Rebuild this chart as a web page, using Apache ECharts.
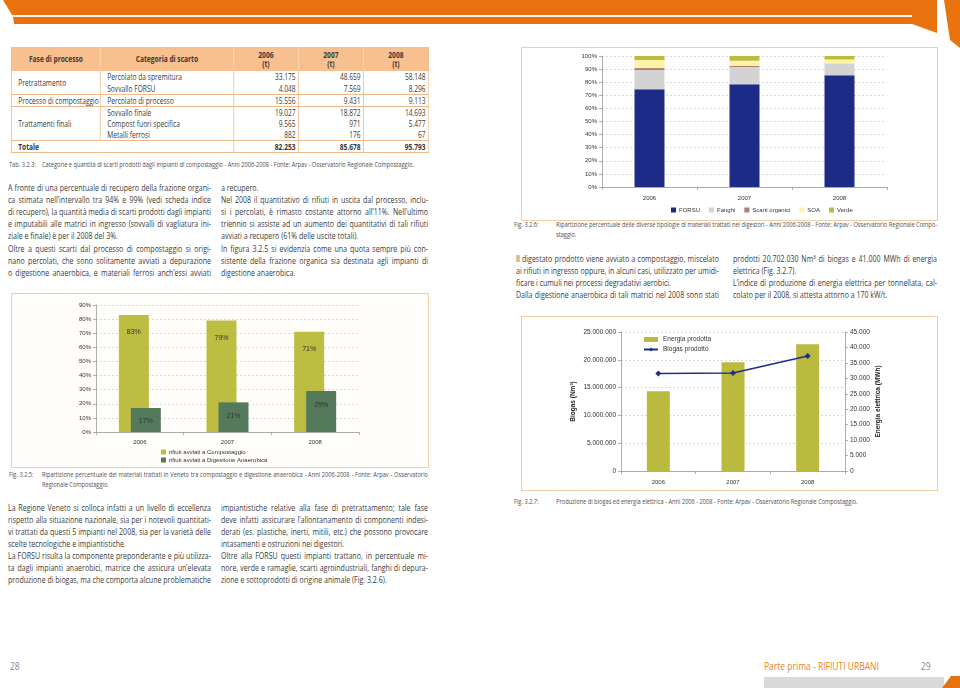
<!DOCTYPE html>
<html>
<head>
<meta charset="utf-8">
<script src="https://cdn.jsdelivr.net/npm/echarts@6/dist/echarts.min.js"></script>
<style>
html,body{margin:0;padding:0;background:#fff;}
#page{position:relative;width:960px;height:688px;overflow:hidden;background:#fff;font-family:"Open Sans","Noto Sans",sans-serif;color:#3a3a3a;}
.ln{position:absolute;white-space:nowrap;font-size:8.7px;}
.cap{position:absolute;white-space:nowrap;font-size:7.2px;color:#505050;}
.ln span,.cap span{display:inline-block;transform-origin:0 50%;}
.box{position:absolute;border:1px solid #f2cda8;box-sizing:border-box;}
#tblwrap{position:absolute;left:11px;top:47px;transform-origin:0 0;}
#tbl{border-collapse:collapse;font-size:8.3px;color:#3a3a3a;table-layout:fixed;}
#tbl td,#tbl th{padding:0;height:11.5px;line-height:11px;white-space:nowrap;overflow:visible;box-sizing:border-box;}
#tbl th{background:#f8c08e;height:24px;line-height:9.5px;font-weight:bold;text-align:center;border-left:1px solid #fbd6b4;}
#tbl th:first-child{border-left:1px solid #f1b07a;}
#tbl th:last-child{border-right:1px solid #f1b07a;}
#tbl td{border-left:1px solid #f1b98a;border-right:1px solid #f1b98a;}
#tbl td.num{text-align:right;padding-right:3px;}
#tbl td.txt{text-align:left;padding-left:8px;}
#tbl tr.gb td{border-bottom:1px solid #f1b98a;}
#tbl tr.tot td{font-weight:bold;border-bottom:1px solid #f1b98a;}
#chart{position:absolute;left:0;top:0;width:960px;height:688px;z-index:5;pointer-events:none;}
.foot{position:absolute;white-space:nowrap;font-size:10px;}
.foot span{display:inline-block;transform-origin:0 50%;transform:scaleX(0.85);}
</style>
</head>
<body>
<div id="page">
<svg width="960" height="688" style="position:absolute;left:0;top:0;">
  <polygon points="3,0 937,0 937,33 912,24 14,24 13,17 12,15" fill="#e8730e"/>
  <rect x="12" y="15" width="900" height="2" fill="#fff4ea"/>
  <polygon points="944,0 960,0 960,48 950,40" fill="#e8730e"/>
  <rect x="764" y="677" width="180" height="11" fill="#d9d9d9"/>
  <polygon points="942,688 951,676 960,676 960,688" fill="#e8730e"/>
</svg>
<div class="box" style="left:521px;top:47px;width:417px;height:174px;"></div>
<div class="box" style="left:11px;top:293px;width:418px;height:175px;background:#fffefa;"></div>
<div class="box" style="left:521px;top:316px;width:417px;height:175px;"></div>
<div id="chart"></div>
</div>
<script>
// ---------- DATA ----------
// Table 3.2.3
const tabYears = ['2006', '2007', '2008'];
const tabPhases = ['Pretrattamento', 'Processo di compostaggio', 'Trattamenti finali'];
const tabPhaseSpans = [2, 1, 3];
const tabCategories = ['Percolato da spremitura', 'Sovvallo FORSU', 'Percolato di processo', 'Sovvallo finale', 'Compost fuori specifica', 'Metalli ferrosi'];
const tab2006 = ['33.175', '4.048', '15.556', '19.027', '9.565', '882'];
const tab2007 = ['48.659', '7.569', '9.431', '18.872', '971', '176'];
const tab2008 = ['58.148', '8.296', '9.113', '14.693', '5.477', '67'];
const tabTotals = ['82.253', '85.678', '95.793'];

// Fig 3.2.6 (stacked %)
const digYears = ['2006', '2007', '2008'];
const digForsu = [74.6, 78.4, 85.3];
const digFanghi = [14.7, 13.2, 9.1];
const digScarti = [1.5, 0.8, 0];
const digSoa = [6.1, 4.0, 3.0];
const digVerde = [3.1, 3.6, 2.6];
const digTicks = [0, 10, 20, 30, 40, 50, 60, 70, 80, 90, 100];

// Fig 3.2.5
const repYears = ['2006', '2007', '2008'];
const repCompost = [83, 79, 71];
const repDigest = [17, 21, 29];

// Fig 3.2.7
const bioYears = ['2006', '2007', '2008'];
const bioEnergia = [25800, 35200, 41000];
const bioBiogas = [17520000, 17630000, 20702030];

// ---------- TEXT ----------
const txtTopLeftA = [
 ['A fronte di una percentuale di recupero della frazione organi-', 1],
 ['ca stimata nell’intervallo tra 94% e 99% (vedi scheda indice', 1],
 ['di recupero), la quantità media di scarti prodotti dagli impianti', 1],
 ['e imputabili alle matrici in ingresso (sovvalli di vagliatura ini-', 1],
 ['ziale e finale) è per il 2008 del 3%.', 0],
 ['Oltre a questi scarti dal processo di compostaggio si origi-', 1],
 ['nano percolati, che sono solitamente avviati a depurazione', 1],
 ['o digestione anaerobica, e materiali ferrosi anch’essi avviati', 1]
];
const txtTopLeftB = [
 ['a recupero.', 0],
 ['Nel 2008 il quantitativo di rifiuti in uscita dal processo, inclu-', 1],
 ['si i percolati, è rimasto costante attorno all’11%. Nell’ultimo', 1],
 ['triennio si assiste ad un aumento dei quantitativi di tali rifiuti', 1],
 ['avviati a recupero (61% delle uscite totali).', 0],
 ['In figura 3.2.5 si evidenzia come una quota sempre più con-', 1],
 ['sistente della frazione organica sia destinata agli impianti di', 1],
 ['digestione anaerobica.', 0]
];
const txtBotLeftA = [
 ['La Regione Veneto si colloca infatti a un livello di eccellenza', 1],
 ['rispetto alla situazione nazionale, sia per i notevoli quantitati-', 1],
 ['vi trattati da questi 5 impianti nel 2008, sia per la varietà delle', 1],
 ['scelte tecnologiche e impiantistiche.', 0],
 ['La FORSU risulta la componente preponderante e più utilizza-', 1],
 ['ta dagli impianti anaerobici, matrice che assicura un’elevata', 1],
 ['produzione di biogas, ma che comporta alcune problematiche', 1]
];
const txtBotLeftB = [
 ['impiantistiche relative alla fase di pretrattamento; tale fase', 1],
 ['deve infatti assicurare l’allontanamento di componenti indesi-', 1],
 ['derati (es. plastiche, inerti, mitili, etc.) che possono provocare', 1],
 ['intasamenti e ostruzioni nei digestori.', 0],
 ['Oltre alla FORSU questi impianti trattano, in percentuale mi-', 1],
 ['nore, verde e ramaglie, scarti agroindustriali, fanghi di depura-', 1],
 ['zione e sottoprodotti di origine animale (Fig. 3.2.6).', 0]
];
const txtRightA = [
 ['Il digestato prodotto viene avviato a compostaggio, miscelato', 1],
 ['ai rifiuti in ingresso oppure, in alcuni casi, utilizzato per umidi-', 1],
 ['ficare i cumuli nei processi degradativi aerobici.', 0],
 ['Dalla digestione anaerobica di tali matrici nel 2008 sono stati', 1]
];
const txtRightB = [
 ['prodotti 20.702.030 Nm³ di biogas e 41.000 MWh di energia', 1],
 ['elettrica (Fig. 3.2.7).', 0],
 ['L’indice di produzione di energia elettrica per tonnellata, cal-', 1],
 ['colato per il 2008, si attesta attorno a 170 kW/t.', 0]
];

const page = document.getElementById('page');

// line layout with a uniform horizontal condensation per class
const pending = { ln: [], cap: [] };
function addLines(x, yc, width, lh, lines, cls) {
  lines.forEach(function (ln, i) {
    const d = document.createElement('div');
    d.className = cls;
    d.style.left = x + 'px';
    d.style.top = (yc + i * lh - lh / 2) + 'px';
    d.style.height = lh + 'px';
    d.style.lineHeight = lh + 'px';
    const s = document.createElement('span');
    s.textContent = ln[0];
    d.appendChild(s);
    page.appendChild(d);
    pending[cls].push({ s: s, txt: ln[0], just: ln[1], width: width, w: s.getBoundingClientRect().width });
  });
}
function layoutLines(cls) {
  const items = pending[cls];
  let k = 1;
  items.forEach(function (it) { if (it.just && it.width) k = Math.min(k, it.width / it.w); });
  items.forEach(function (it) {
    let kk = k;
    if (it.width && it.w * kk > it.width) kk = it.width / it.w;
    it.s.style.transform = 'scaleX(' + kk + ')';
    const n = (it.txt.match(/ /g) || []).length;
    if (it.just && n) it.s.style.wordSpacing = ((it.width / kk - it.w) / n) + 'px';
  });
}

// table
(function () {
  const K = 0.8;
  const wrap = document.createElement('div');
  wrap.id = 'tblwrap';
  wrap.style.transform = 'scaleX(' + K + ')';
  const t = document.createElement('table');
  t.id = 'tbl';
  const widths = [89, 133, 65, 65, 65].map(w => w / K);
  t.style.width = (417 / K) + 'px';
  let html = '<colgroup>' + widths.map(w => '<col style="width:' + w + 'px">').join('') + '</colgroup>';
  html += '<tr><th>Fase di processo</th><th>Categoria di scarto</th>' +
    tabYears.map(y => '<th>' + y + '<br>(t)</th>').join('') + '</tr>';
  let r = 0;
  tabPhases.forEach(function (ph, p) {
    for (let k = 0; k < tabPhaseSpans[p]; k++) {
      const last = k === tabPhaseSpans[p] - 1;
      html += '<tr' + (last ? ' class="gb"' : '') + '>';
      if (k === 0) html += '<td class="txt" rowspan="' + tabPhaseSpans[p] + '" style="border-bottom:1px solid #f1b98a">' + ph + '</td>';
      html += '<td class="txt">' + tabCategories[r] + '</td><td class="num">' + tab2006[r] + '</td><td class="num">' + tab2007[r] + '</td><td class="num">' + tab2008[r] + '</td></tr>';
      r++;
    }
  });
  html += '<tr class="tot"><td class="txt" colspan="2">Totale</td>' + tabTotals.map(v => '<td class="num">' + v + '</td>').join('') + '</tr>';
  t.innerHTML = html;
  wrap.appendChild(t);
  page.appendChild(wrap);
})();

// captions
function caption(labelX, textX, yc, label, lines, width) {
  addLines(labelX, yc, 0, 9.5, [[label, 0]], 'cap');
  addLines(textX, yc, width, 9.5, lines, 'cap');
}
caption(9, 42, 165, 'Tab. 3.2.3:', [['Categorie e quantità di scarti prodotti dagli impianti di compostaggio - Anni 2006-2008 - Fonte: Arpav - Osservatorio Regionale Compostaggio.', 0]], 386);
caption(9, 42, 475, 'Fig. 3.2.5:', [['Ripartizione percentuale dei materiali trattati in Veneto tra compostaggio e digestione anaerobica - Anni 2006-2008 - Fonte: Arpav - Osservatorio', 1], ['Regionale Compostaggio.', 0]], 386);
caption(514, 556, 225, 'Fig. 3.2.6:', [['Ripartizione percentuale delle diverse tipologie di materiali trattati nei digestori - Anni 2006-2008 - Fonte: Arpav - Osservatorio Regionale Compo-', 1], ['staggio.', 0]], 381);
caption(514, 556, 502, 'Fig. 3.2.7:', [['Produzione di biogas ed energia elettrica - Anni 2006 - 2008 - Fonte: Arpav - Osservatorio Regionale Compostaggio.', 0]], 381);

addLines(8, 188.3, 203, 12.05, txtTopLeftA, 'ln');
addLines(221, 188.3, 207, 12.05, txtTopLeftB, 'ln');
addLines(8, 508.3, 203, 12, txtBotLeftA, 'ln');
addLines(221, 508.3, 207, 12, txtBotLeftB, 'ln');
addLines(516, 259, 203, 12, txtRightA, 'ln');
addLines(733, 259, 204, 12, txtRightB, 'ln');
layoutLines('ln');
layoutLines('cap');

// footer
(function () {
  const f = [['28', 10, '#8a8a8a'], ['Parte prima - RIFIUTI URBANI', 764, '#e8801f'], ['29', 921, '#8a8a8a']];
  f.forEach(function (it) {
    const d = document.createElement('div');
    d.className = 'foot';
    d.style.left = it[1] + 'px';
    d.style.top = '659px';
    d.style.color = it[2];
    d.innerHTML = '<span></span>';
    d.firstChild.textContent = it[0];
    page.appendChild(d);
  });
})();

// ---------- CHARTS ----------
function dots(v) { return String(v).replace(/\B(?=(\d{3})+(?!\d))/g, '.'); }
const FONT = '"Liberation Sans", Arial, sans-serif';
const axisLab = { fontSize: 6, color: '#333', fontFamily: FONT };
const gridLine = { show: true, lineStyle: { color: '#c8c8c8', type: [2, 2], width: 0.7 } };
const axLine = { show: true, lineStyle: { color: '#9a9a9a', width: 0.8 } };
const axTick = { show: true, length: 3, lineStyle: { color: '#9a9a9a', width: 0.8 } };

const chart = echarts.init(document.getElementById('chart'), null, { renderer: 'canvas' });
chart.setOption({
  backgroundColor: 'transparent',
  animation: false,
  textStyle: { fontFamily: FONT },
  grid: [
    { left: 602, top: 56, width: 285, height: 131 },
    { left: 96, top: 305, width: 263, height: 127 },
    { left: 621, top: 332, width: 224, height: 139 }
  ],
  xAxis: [
    { type: 'category', gridIndex: 0, data: digYears, axisLine: axLine, axisTick: axTick, axisLabel: Object.assign({ margin: 8 }, axisLab) },
    { type: 'category', gridIndex: 1, data: repYears, axisLine: axLine, axisTick: axTick, axisLabel: Object.assign({ margin: 7 }, axisLab) },
    { type: 'category', gridIndex: 2, data: bioYears, axisLine: axLine, axisTick: axTick, axisLabel: Object.assign({ margin: 8 }, axisLab) }
  ],
  yAxis: [
    { type: 'value', gridIndex: 0, min: digTicks[0], max: digTicks[digTicks.length - 1], interval: 10, axisLine: axLine, axisTick: axTick, splitLine: gridLine,
      axisLabel: Object.assign({ formatter: '{value}%', margin: 5 }, axisLab) },
    { type: 'value', gridIndex: 1, min: 0, max: 90, interval: 10, axisLine: axLine, axisTick: axTick, splitLine: gridLine,
      axisLabel: Object.assign({ formatter: '{value}%', margin: 5 }, axisLab) },
    { type: 'value', gridIndex: 2, position: 'left', min: 0, max: 25000000, interval: 5000000, axisLine: axLine, axisTick: axTick, splitLine: gridLine,
      name: 'Biogas (Nm³)', nameLocation: 'middle', nameGap: 44, nameRotate: 90,
      nameTextStyle: { fontSize: 6.5, fontWeight: 'bold', color: '#222', fontFamily: FONT },
      axisLabel: Object.assign({ formatter: dots, margin: 5 }, axisLab, { fontSize: 6.5 }) },
    { type: 'value', gridIndex: 2, position: 'right', min: 0, max: 45000, interval: 5000, axisLine: axLine, axisTick: axTick, splitLine: { show: false },
      name: 'Energia elettrica (MWh)', nameLocation: 'middle', nameGap: 30, nameRotate: 90,
      nameTextStyle: { fontSize: 6.5, fontWeight: 'bold', color: '#222', fontFamily: FONT },
      axisLabel: Object.assign({ formatter: dots, margin: 5 }, axisLab, { fontSize: 6.5 }) }
  ],
  legend: [
    { data: ['FORSU', 'Fanghi', 'Scarti organici', 'SOA', 'Verde'], left: 671, top: 207, padding: 0, icon: 'rect', itemWidth: 5, itemHeight: 5, itemGap: 9,
      textStyle: { fontSize: 6, color: '#333', fontFamily: FONT, padding: [0, 0, 0, -2] } },
    { data: ['rifiuti avviati a Compostaggio', 'rifiuti avviati a Digestione Anaerobica'], orient: 'vertical', left: 161, top: 449, icon: 'rect',
      itemWidth: 5, itemHeight: 5, itemGap: 2, padding: 0, textStyle: { fontSize: 6, color: '#333', fontFamily: FONT, padding: [0, 0, 0, -2] } },
    { data: [{ name: 'Energia prodotta', icon: 'rect' }, { name: 'Biogas prodotto' }], orient: 'vertical', left: 643, top: 336,
      itemWidth: 14, itemHeight: 5, itemGap: 3, padding: 0, textStyle: { fontSize: 6.5, color: '#333', fontFamily: FONT } }
  ],
  series: [
    { name: 'FORSU', type: 'bar', stack: 'd', xAxisIndex: 0, yAxisIndex: 0, barWidth: 30, data: digForsu, itemStyle: { color: '#1c2b85' } },
    { name: 'Fanghi', type: 'bar', stack: 'd', xAxisIndex: 0, yAxisIndex: 0, barWidth: 30, data: digFanghi, itemStyle: { color: '#d3d3d3' } },
    { name: 'Scarti organici', type: 'bar', stack: 'd', xAxisIndex: 0, yAxisIndex: 0, barWidth: 30, data: digScarti, itemStyle: { color: '#b27c70' } },
    { name: 'SOA', type: 'bar', stack: 'd', xAxisIndex: 0, yAxisIndex: 0, barWidth: 30, data: digSoa, itemStyle: { color: '#fbf3a6' } },
    { name: 'Verde', type: 'bar', stack: 'd', xAxisIndex: 0, yAxisIndex: 0, barWidth: 30, data: digVerde, itemStyle: { color: '#b9ba3e' } },

    { name: 'rifiuti avviati a Compostaggio', type: 'bar', xAxisIndex: 1, yAxisIndex: 1, barWidth: 30, barGap: '-60%', data: repCompost,
      itemStyle: { color: '#bdbd42' },
      label: { show: true, position: 'insideTop', distance: 14, formatter: '{c}%', fontSize: 7, color: '#333', fontFamily: FONT } },
    { name: 'rifiuti avviati a Digestione Anaerobica', type: 'bar', xAxisIndex: 1, yAxisIndex: 1, barWidth: 30, barGap: '-60%', data: repDigest,
      itemStyle: { color: '#55795b' },
      label: { show: true, position: 'insideTop', distance: 10, formatter: '{c}%', fontSize: 7, color: '#333', fontFamily: FONT } },

    { name: 'Energia prodotta', type: 'bar', xAxisIndex: 2, yAxisIndex: 3, barWidth: 23, data: bioEnergia, itemStyle: { color: '#b9ba3e' } },
    { name: 'Biogas prodotto', type: 'line', xAxisIndex: 2, yAxisIndex: 2, data: bioBiogas, symbol: 'diamond', symbolSize: 6,
      itemStyle: { color: '#1f2f87' }, lineStyle: { color: '#1f2f87', width: 1.5 } }
  ]
});
</script>
</body>
</html>
